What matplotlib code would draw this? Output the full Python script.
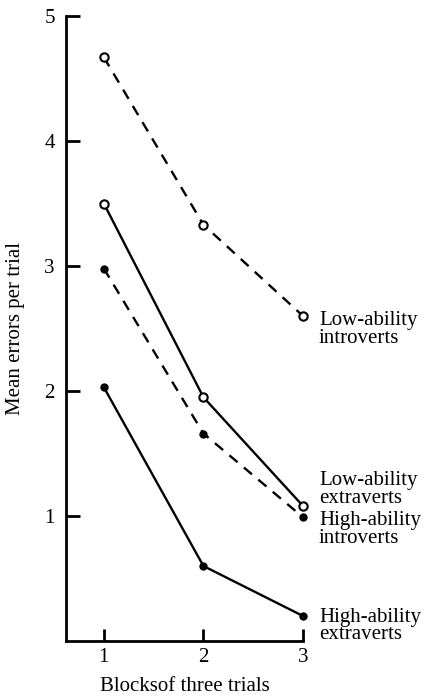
import matplotlib
matplotlib.use("Agg")
import matplotlib.pyplot as plt

blocks = [1, 2, 3]
low_introverts = [4.67, 3.33, 2.60]
low_extraverts = [3.50, 1.95, 1.08]
high_introverts = [2.98, 1.66, 0.99]
high_extraverts = [2.03, 0.60, 0.20]
series_labels = ["Low-ability\nintroverts", "Low-ability\nextraverts",
                 "High-ability\nintroverts", "High-ability\nextraverts"]
label_y = [2.49, 1.21, 0.89, 0.12]

plt.rcParams['font.family'] = ['Liberation Serif', 'DejaVu Serif']

fig = plt.figure(figsize=(4.28, 7.0), dpi=100)
ax = fig.add_axes([66/428, 59/700, 237/428, 625/700])

dash = (0, (4.5, 3.5))
ax.plot(blocks, low_introverts, color='black', lw=1.7, linestyle=dash,
        marker='o', markersize=6, markerfacecolor='white', markeredgewidth=1.5, clip_on=False)
ax.plot(blocks, low_extraverts, color='black', lw=1.7, linestyle='-',
        marker='o', markersize=6, markerfacecolor='white', markeredgewidth=1.5, clip_on=False)
ax.plot(blocks, high_introverts, color='black', lw=1.7, linestyle=dash,
        marker='o', markersize=5, markerfacecolor='black', clip_on=False)
ax.plot(blocks, high_extraverts, color='black', lw=1.7, linestyle='-',
        marker='o', markersize=5, markerfacecolor='black', clip_on=False)

for lab, yy in zip(series_labels, label_y):
    ax.text(3.16, yy, lab, fontsize=15, va='center', ha='left', linespacing=0.92,
            clip_on=False)

ax.set_xlim(0.62, 3.0)
ax.set_ylim(0, 5)
ax.set_xticks([1, 2, 3])
ax.set_yticks([1, 2, 3, 4, 5])
for s in ['top', 'right']:
    ax.spines[s].set_visible(False)
for s in ['left', 'bottom']:
    ax.spines[s].set_linewidth(2.0)
ax.tick_params(axis='y', direction='in', length=10, width=2, labelsize=15, pad=8)
ax.tick_params(axis='x', direction='in', length=9, width=2, labelsize=15, pad=5)
ax.set_ylabel("Mean errors per trial", fontsize=15, labelpad=14)
ax.set_xlabel("Blocksof three trials", fontsize=15, labelpad=7)

fig.savefig("out.png", dpi=100)
